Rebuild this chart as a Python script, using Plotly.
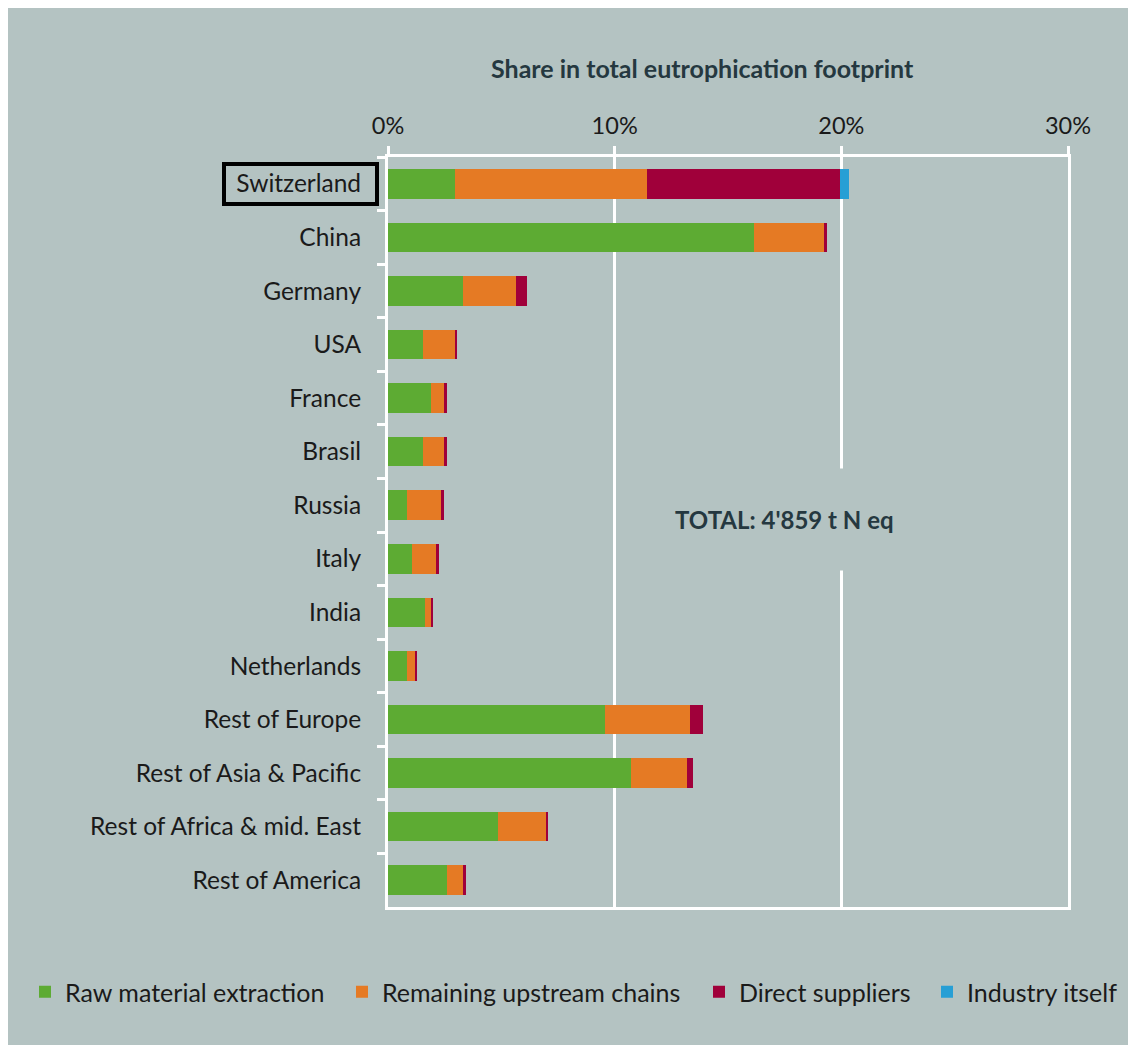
import plotly.graph_objects as go

countries = ["Switzerland", "China", "Germany", "USA", "France", "Brasil", "Russia",
             "Italy", "India", "Netherlands", "Rest of Europe", "Rest of Asia & Pacific",
             "Rest of Africa & mid. East", "Rest of America"]
raw_material = [2.94, 16.15, 3.30, 1.53, 1.88, 1.53, 0.82, 1.06, 1.62, 0.82, 9.56, 10.72, 4.84, 2.59]
upstream = [8.50, 3.07, 2.36, 1.41, 0.58, 0.93, 1.54, 1.06, 0.26, 0.36, 3.76, 2.49, 2.12, 0.71]
direct = [8.49, 0.13, 0.47, 0.12, 0.13, 0.13, 0.13, 0.12, 0.12, 0.12, 0.59, 0.23, 0.11, 0.13]
industry = [0.39, 0, 0, 0, 0, 0, 0, 0, 0, 0, 0, 0, 0, 0]
series_names = ["Raw material extraction", "Remaining upstream chains", "Direct suppliers", "Industry itself"]
tick_vals = [0, 10, 20, 30]
tick_text = ["0%", "10%", "20%", "30%"]
title_text = "Share in total eutrophication footprint"
total_text = "TOTAL: 4'859 t N eq"

BG = "#B4C3C2"
colors = ["#5DAB33", "#E57A24", "#A0003A", "#279FD5"]
FONT = "Lato"

# page offset (default body margin)
OX, OY = 8, 8
W, H = 1136 - OX, 1045 - OY
# plot area in page pixels: x 388..1068, y 157..907
L = 388 - OX
R = W - (1068 - OX)
T = 157 - OY
B = H - (907 - OY)
PW, PH = W - L - R, H - T - B

def px_x(p):
    return (p - OX - L) / PW

def px_y(p):
    return (H - B - (p - OY)) / PH

legend_ids = ["legend", "legend2", "legend3", "legend4"]
legend_px = [25, 342, 699, 927]

fig = go.Figure()
for name, vals, col, lid in zip(series_names, [raw_material, upstream, direct, industry], colors, legend_ids):
    fig.add_trace(go.Bar(
        y=countries, x=vals, name=name, orientation="h", legend=lid,
        marker=dict(color=col, line=dict(width=0)),
    ))

legend_common = dict(
    orientation="h", y=px_y(992), xanchor="left", yanchor="middle",
    font=dict(family=FONT, size=25, color="#1a1a1a"),
    bgcolor="rgba(0,0,0,0)", itemwidth=30,
)
legends = {lid: dict(legend_common, x=px_x(lx)) for lid, lx in zip(legend_ids, legend_px)}

fig.update_layout(
    width=W, height=H,
    margin=dict(l=L, r=R, t=T, b=B, pad=0),
    paper_bgcolor=BG, plot_bgcolor=BG,
    barmode="stack", bargap=0.45,
    font=dict(family=FONT, size=24, color="#1a1a1a"),
    showlegend=True,
    xaxis=dict(
        side="top", range=[0, 30], tickvals=tick_vals, ticktext=tick_text,
        showgrid=True, gridcolor="white", gridwidth=2.5,
        showline=True, linecolor="white", linewidth=3, mirror=True,
        ticks="outside", ticklen=8, tickwidth=2.5, tickcolor="white",
        ticklabelstandoff=3, zeroline=False,
        tickfont=dict(family=FONT, size=23.5, color="#1a1a1a"),
    ),
    yaxis=dict(
        autorange="reversed", type="category",
        showline=True, linecolor="white", linewidth=3, mirror=True,
        ticks="outside", ticklen=8, tickwidth=2.5, tickcolor="white",
        tickson="boundaries", ticklabelstandoff=19, showgrid=False,
        tickfont=dict(family=FONT, size=24.5, color="#1a1a1a"),
    ),
    annotations=[
        dict(text="<b>" + title_text + "</b>", xref="paper", yref="paper",
             x=px_x(702), y=px_y(68), xanchor="center", yanchor="middle",
             showarrow=False, font=dict(family=FONT, size=25, color="#253840")),
        dict(text="<b>" + total_text + "</b>", xref="paper", yref="paper",
             x=px_x(784), y=px_y(519), xanchor="center", yanchor="middle",
             showarrow=False, bgcolor=BG, borderpad=36,
             font=dict(family=FONT, size=24, color="#253840")),
    ],
    shapes=[
        dict(type="rect", xref="paper", yref="paper",
             x0=px_x(224), x1=px_x(377), y0=px_y(204), y1=px_y(164),
             line=dict(color="black", width=4), fillcolor="rgba(0,0,0,0)"),
    ],
    **legends,
)

fig.write_html("out.html")
